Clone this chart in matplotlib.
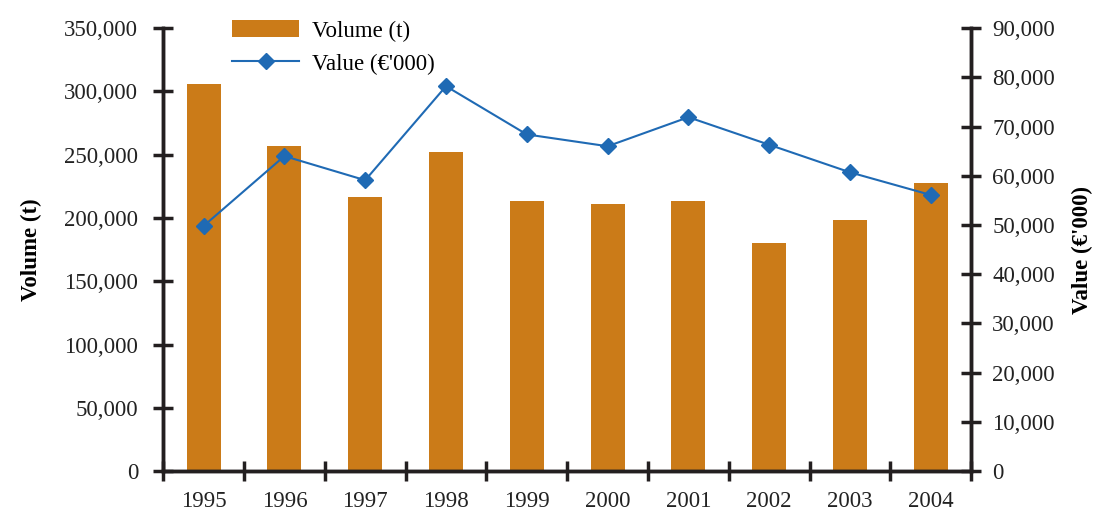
import numpy as np
import matplotlib
matplotlib.use("Agg")
import matplotlib.pyplot as plt
from matplotlib.ticker import FuncFormatter, FixedLocator

plt.rcParams['font.family'] = ['Liberation Serif', 'DejaVu Serif']

# data
years = ['1995', '1996', '1997', '1998', '1999', '2000', '2001', '2002', '2003', '2004']
volume = [305500, 256500, 216500, 252000, 213500, 211000, 213500, 180000, 198500, 227500]
value = [49800, 64000, 59100, 78200, 68400, 66000, 71900, 66300, 60700, 56100]

bar_color = '#CB7B18'
line_color = '#1F6AB4'
axis_color = '#231F20'
fs = 16.5

fig = plt.figure(figsize=(11.1, 5.11), dpi=100)
ax = fig.add_axes([0.147, 0.078, 0.728, 0.867])
ax2 = ax.twinx()

x = np.arange(len(years))
b = ax.bar(x, volume, width=0.42, color=bar_color, label='Volume (t)', zorder=2)
l, = ax2.plot(x, value, color=line_color, lw=1.5, marker='D', ms=8.5,
              label="Value (€'000)", zorder=3)

ax.set_xlim(-0.5, len(years) - 0.5)
ax.set_ylim(0, 350000)
ax2.set_ylim(0, 90000)
ax.set_yticks(np.arange(0, 350001, 50000))
ax2.set_yticks(np.arange(0, 90001, 10000))

fmt = FuncFormatter(lambda v, p: f'{int(v):,}')
ax.yaxis.set_major_formatter(fmt)
ax2.yaxis.set_major_formatter(fmt)

# category boundaries get ticks, labels sit under the bars
ax.xaxis.set_major_locator(FixedLocator(np.arange(-0.5, len(years), 1)))
ax.set_xticklabels([])
ax.xaxis.set_minor_locator(FixedLocator(x))
ax.set_xticklabels(years, minor=True)
ax.tick_params(axis='x', which='minor', length=0, pad=14, labelsize=fs, colors='#222222')
ax.tick_params(axis='x', which='major', direction='inout', length=14, width=2.5, color=axis_color)

for a in (ax, ax2):
    a.tick_params(axis='y', direction='inout', length=14, width=2.5, color=axis_color,
                  labelsize=fs, labelcolor='#222222')
    a.spines['top'].set_visible(False)
    for s in ('left', 'right', 'bottom'):
        a.spines[s].set_linewidth(2.5)
        a.spines[s].set_color(axis_color)
ax.tick_params(axis='y', pad=11)
ax2.tick_params(axis='y', pad=8)

ax.set_ylabel('Volume (t)', fontsize=fs, fontweight='bold', labelpad=16)
ax2.set_ylabel("Value (€'000)", fontsize=fs, fontweight='bold', rotation=90, labelpad=12)

ax2.legend([b, l], ['Volume (t)', "Value (€'000)"], loc='upper left',
           bbox_to_anchor=(0.06, 1.065), frameon=False, fontsize=fs,
           handlelength=2.9, handleheight=0.8, handletextpad=0.6, labelspacing=0.5)

fig.savefig('out.png', dpi=100)
